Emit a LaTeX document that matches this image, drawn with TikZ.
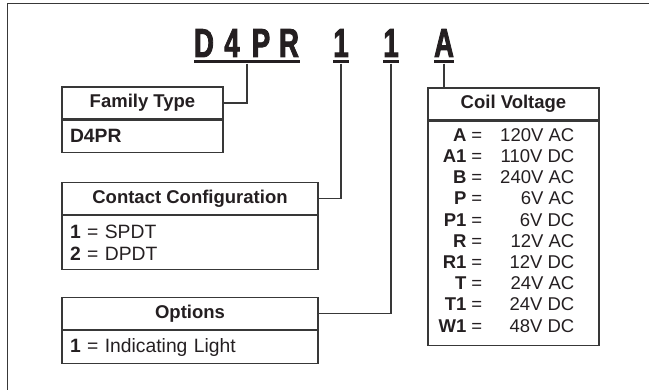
\documentclass[tikz,border=0pt]{standalone}
\usepackage{fontspec}
\setmainfont{Liberation Sans}
\newfontfamily\codefont{Liberation Sans Bold}[FakeStretch=0.68, FakeBold=2]
\usetikzlibrary{positioning}
\definecolor{boxgray}{rgb}{0.22, 0.22, 0.22}
\definecolor{inkblack}{rgb}{0.14, 0.12, 0.13}
\tikzstyle{header} = [rectangle, draw=boxgray, line width=1.3pt, inner sep=0pt, minimum height=32pt, text centered, text=inkblack, font=\fontsize{18.5}{21}\selectfont\bfseries]
\tikzstyle{body} = [rectangle, draw=boxgray, line width=1.3pt, inner xsep=8pt, inner ysep=0pt, align=left, text=inkblack, font=\fontsize{19.3}{21.2}\selectfont]
\tikzstyle{codechar} = [anchor=base, inner sep=0pt, text=inkblack, font=\codefont\fontsize{40.5}{40}\selectfont]
\tikzstyle{underbar} = [rectangle, fill=inkblack, inner sep=0pt, minimum height=3pt]
\tikzstyle{line} = [line width=1.2pt, draw=boxgray]

\begin{document}
\begin{tikzpicture}[x=1pt, y=-1pt]
\useasboundingbox (0,0) rectangle (649,390);

% outer frame (top and left only)
\draw[line width=1.8pt, boxgray] (649,3.5) -- (7.5,3.5) -- (7.5,390);

% catalogue number
\node (cD) [codechar] at (204,57) {D};
\node (c4) [codechar] at (232,57) {4};
\node (cP) [codechar] at (261,57) {P};
\node (cR) [codechar] at (289,57) {R};
\node (cCont) [codechar] at (341,57) {1};
\node (cOpt) [codechar] at (391,57) {1};
\node (cCoil) [codechar] at (444,57) {A};

\node (barFam) [underbar, minimum width=106pt] at (247,62) {};
\node (barCont) [underbar, minimum width=16pt] at (341,62) {};
\node (barOpt) [underbar, minimum width=16pt] at (391,62) {};
\node (barCoil) [underbar, minimum width=20pt] at (444,62) {};

% Family Type
\node (famHead) [header, minimum width=161pt] at (142.5,103) {Family Type};
\node (famBody) [body, below=0pt of famHead, minimum height=32pt, text width=145pt] {\textbf{D4PR}};

% Contact Configuration
\node (contHead) [header, minimum width=256pt] at (190,198.5) {Contact Configuration};
\node (contBody) [body, below=0pt of contHead, minimum height=54pt, text width=240pt] {\textbf{1} = SPDT\\\textbf{2} = DPDT};

% Options
\node (optHead) [header, minimum width=256pt] at (190,313.5) {Options};
\node (optBody) [body, below=0pt of optHead, minimum height=33pt, text width=240pt] {\textbf{1} = Indicating Light};

% Coil Voltage
\node (coilHead) [header, minimum width=171pt] at (513.5,104) {Coil Voltage};
\node (coilBody) [body, below=0pt of coilHead, minimum height=224pt, minimum width=171pt] {};
\node (coilTab) [inner sep=0pt, text=inkblack, font=\fontsize{18.5}{21.2}\selectfont] at (506.5,232.5) {%
\begin{tabular}{@{}r@{\hspace{5pt}=\hspace{18pt}}r@{}}
\textbf{A} & 120V AC\\
\textbf{A1} & 110V DC\\
\textbf{B} & 240V AC\\
\textbf{P} & 6V AC\\
\textbf{P1} & 6V DC\\
\textbf{R} & 12V AC\\
\textbf{R1} & 12V DC\\
\textbf{T} & 24V AC\\
\textbf{T1} & 24V DC\\
\textbf{W1} & 48V DC
\end{tabular}};

% connectors
\draw[line] (barFam.south) |- (famHead.east);
\draw[line] (barCont.south) |- (contHead.east);
\draw[line] (barOpt.south) |- (optHead.east);
\draw[line] (barCoil.south) -- (barCoil.south |- coilHead.north);

\end{tikzpicture}
\end{document}
